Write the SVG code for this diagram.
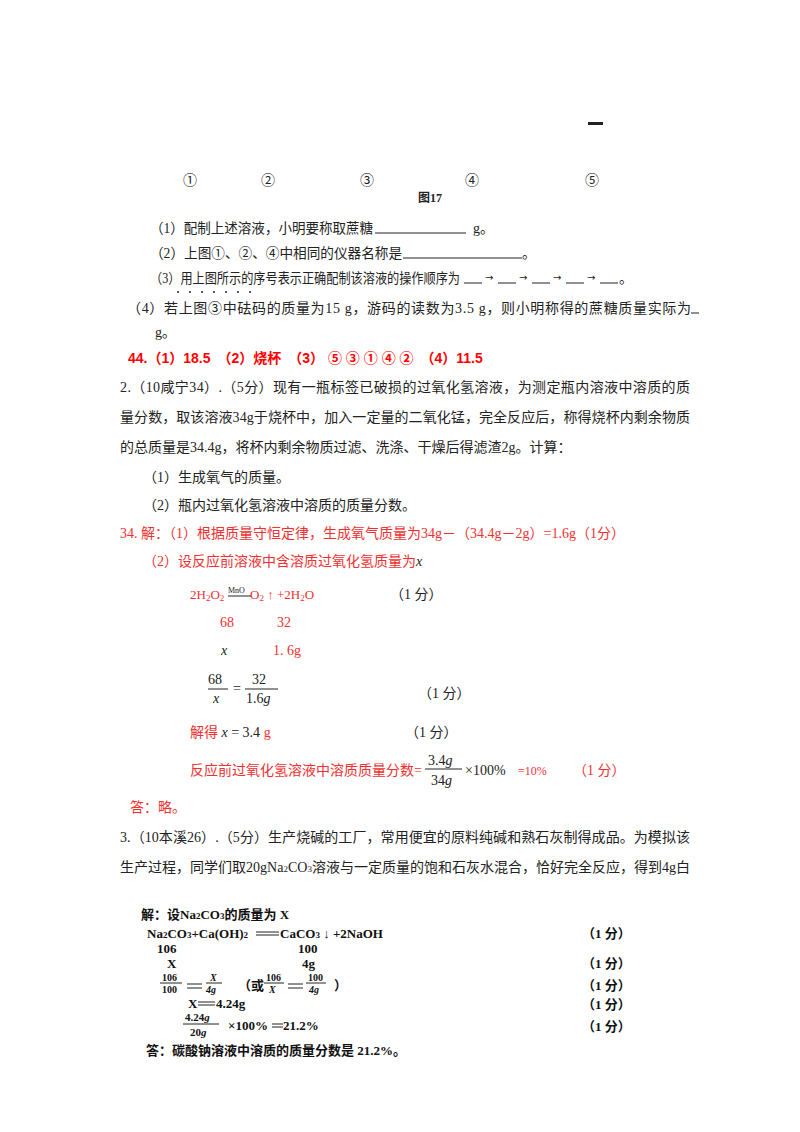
<svg xmlns="http://www.w3.org/2000/svg" width="800" height="1132" viewBox="0 0 800 1132">
<style>
text{font-family:"Liberation Serif","Noto Sans CJK SC",serif;font-size:14px;fill:#222}
.r{fill:#f03030}
.rb{fill:#ff0000;font-weight:bold;font-family:"Liberation Sans","Noto Sans CJK SC",sans-serif}
.b{font-weight:bold;fill:#111;font-size:13px}
.i{font-style:italic}
.ar{font-size:10px;font-family:"DejaVu Sans",sans-serif}
line{stroke:#222;stroke-width:1}
</style>
<rect width="800" height="1132" fill="#fff"/>
<rect x="588" y="122" width="15" height="3" fill="#222"/>
<g>
<text x="183" y="185">①</text><text x="261" y="185">②</text><text x="360" y="185">③</text><text x="465" y="185">④</text><text x="585" y="185">⑤</text>
<text x="418" y="202" style="font-weight:bold;font-size:12px">图17</text>
</g>
<text x="150" y="233" textLength="223" lengthAdjust="spacingAndGlyphs">（1）配制上述溶液，小明要称取蔗糖</text>
<line x1="375" y1="233" x2="466" y2="233"/>
<text x="473" y="233">g。</text>
<text x="150" y="258" textLength="252" lengthAdjust="spacingAndGlyphs">（2）上图①、②、④中相同的仪器名称是</text>
<line x1="403" y1="258" x2="522" y2="258"/>
<text x="522" y="258">。</text>
<text x="150" y="283" textLength="310" lengthAdjust="spacingAndGlyphs">（3）用上图所示的序号表示正确配制该溶液的操作顺序为</text>
<g fill="#222"><circle cx="178" cy="292" r="1"/><circle cx="190" cy="292" r="1"/><circle cx="202" cy="292" r="1"/><circle cx="214" cy="292" r="1"/><circle cx="226" cy="292" r="1"/><circle cx="238" cy="292" r="1"/><circle cx="250" cy="292" r="1"/></g>
<g>
<line x1="464" y1="283" x2="482" y2="283"/><text x="485" y="281" class="ar">→</text>
<line x1="498" y1="283" x2="516" y2="283"/><text x="519" y="281" class="ar">→</text>
<line x1="532" y1="283" x2="550" y2="283"/><text x="553" y="281" class="ar">→</text>
<line x1="566" y1="283" x2="584" y2="283"/><text x="587" y="281" class="ar">→</text>
<line x1="600" y1="283" x2="618" y2="283"/><text x="619" y="283">。</text>
</g>
<text x="127" y="313" textLength="564">（4）若上图③中砝码的质量为15 g，游码的读数为3.5 g，则小明称得的蔗糖质量实际为</text>
<line x1="691" y1="313" x2="699" y2="313"/>
<text x="155" y="337">g。</text>
<text x="128" y="363" class="rb">44.（1）18.5　（2）烧杯　（3） ⑤ ③ ① ④ ②　（4）11.5</text>
<text x="120" y="392" textLength="570">2.（10咸宁34）.（5分）现有一瓶标签已破损的过氧化氢溶液，为测定瓶内溶液中溶质的质</text>
<text x="120" y="422" textLength="570">量分数，取该溶液34g于烧杯中，加入一定量的二氧化锰，完全反应后，称得烧杯内剩余物质</text>
<text x="120" y="452">的总质量是34.4g，将杯内剩余物质过滤、洗涤、干燥后得滤渣2g。计算：</text>
<text x="143" y="482">（1）生成氧气的质量。</text>
<text x="143" y="510">（2）瓶内过氧化氢溶液中溶质的质量分数。</text>
<text x="120" y="538" class="r">34. 解：（1）根据质量守恒定律，生成氧气质量为34g－（34.4g－2g）=1.6g（1分）</text>
<text x="143" y="566" class="r">（2）设反应前溶液中含溶质过氧化氢质量为<tspan class="i" fill="#222">x</tspan></text>
<text x="190" y="599" class="r" style="font-size:13px">2H<tspan font-size="9" dy="2">2</tspan><tspan dy="-2">O</tspan><tspan font-size="9" dy="2">2</tspan></text>
<text x="228" y="593" style="font-size:8px;fill:#222">MnO</text>
<line x1="228" y1="596" x2="251" y2="596" stroke-width="0.8"/>
<text x="250" y="599" class="r" style="font-size:13px">O<tspan font-size="9" dy="2">2</tspan><tspan dy="-2"> ↑ +2H</tspan><tspan font-size="9" dy="2">2</tspan><tspan dy="-2">O</tspan></text>
<text x="390" y="599">（1 分）</text>
<text x="220" y="627" class="r">68</text><text x="277" y="627" class="r">32</text>
<text x="221" y="655" class="i">x</text><text x="273" y="655" class="r">1. 6g</text>
<g style="font-size:13px">
<text x="208" y="684">68</text><line x1="208" y1="689" x2="228" y2="689"/><text x="213" y="703" class="i">x</text>
<text x="233" y="693">=</text>
<text x="252" y="684">32</text><line x1="245" y1="689" x2="278" y2="689"/><text x="246" y="703">1.6<tspan class="i">g</tspan></text>
</g>
<text x="418" y="698">（1 分）</text>
<text x="190" y="737" class="r">解得 <tspan class="i" fill="#222">x</tspan><tspan fill="#222"> = 3.4 </tspan>g</text>
<text x="405" y="737">（1 分）</text>
<text x="190" y="775" class="r">反应前过氧化氢溶液中溶质质量分数=</text>
<text x="428" y="765">3.4<tspan class="i">g</tspan></text>
<line x1="425" y1="769" x2="462" y2="769"/>
<text x="431" y="785">34<tspan class="i">g</tspan></text>
<text x="465" y="775">×100%</text>
<text x="518" y="775" class="r" style="font-size:12px">=10%</text>
<text x="573" y="775" class="r">（1 分）</text>
<text x="130" y="812" class="r">答：略。</text>
<text x="120" y="842" textLength="570">3.（10本溪26）.（5分）生产烧碱的工厂，常用便宜的原料纯碱和熟石灰制得成品。为模拟该</text>
<text x="120" y="872" textLength="570">生产过程，同学们取20gNa<tspan font-size="9">2</tspan>CO<tspan font-size="9">3</tspan>溶液与一定质量的饱和石灰水混合，恰好完全反应，得到4g白</text>
<g>
<text x="141" y="919" class="b">解：设Na<tspan font-size="9">2</tspan>CO<tspan font-size="9">3</tspan>的质量为 X</text>
<text x="147" y="938" class="b">Na<tspan font-size="9">2</tspan>CO<tspan font-size="9">3</tspan>+Ca(OH)<tspan font-size="9">2</tspan></text>
<line x1="256" y1="932" x2="279" y2="932" stroke-width="1.2"/><line x1="256" y1="935" x2="279" y2="935" stroke-width="1.2"/>
<text x="280" y="938" class="b">CaCO<tspan font-size="9">3</tspan> ↓ +2NaOH</text>
<text x="157" y="953" class="b">106</text><text x="298" y="953" class="b">100</text>
<text x="167" y="968" class="b">X</text><text x="302" y="968" class="b">4g</text>
<text x="162" y="981" class="b" style="font-size:10px">106</text><line x1="160" y1="983" x2="182" y2="983"/><text x="162" y="993" class="b" style="font-size:10px">100</text>
<line x1="187" y1="984" x2="202" y2="984" stroke-width="1.5"/><line x1="187" y1="988" x2="202" y2="988" stroke-width="1.5"/>
<text x="210" y="981" class="b i" style="font-size:10px">X</text><line x1="206" y1="983" x2="222" y2="983"/><text x="206" y="993" class="b i" style="font-size:10px">4g</text>
<text x="238" y="990" class="b">（或</text>
<text x="266" y="981" class="b" style="font-size:10px">106</text><line x1="264" y1="983" x2="284" y2="983"/><text x="269" y="993" class="b i" style="font-size:10px">X</text>
<line x1="288" y1="984" x2="303" y2="984" stroke-width="1.5"/><line x1="288" y1="988" x2="303" y2="988" stroke-width="1.5"/>
<text x="308" y="981" class="b" style="font-size:10px">100</text><line x1="306" y1="983" x2="326" y2="983"/><text x="309" y="993" class="b i" style="font-size:10px">4g</text>
<text x="334" y="990" class="b">）</text>
<text x="188" y="1008" class="b">X</text>
<line x1="198" y1="1002" x2="215" y2="1002" stroke-width="1.2"/><line x1="198" y1="1005" x2="215" y2="1005" stroke-width="1.2"/>
<text x="216" y="1008" class="b">4.24g</text>
<text x="185" y="1021" class="b" style="font-size:11px">4.24<tspan class="i">g</tspan></text>
<line x1="183" y1="1024" x2="219" y2="1024"/>
<text x="190" y="1036" class="b" style="font-size:11px">20<tspan class="i">g</tspan></text>
<text x="228" y="1030" class="b">×100%</text>
<line x1="272" y1="1024" x2="283" y2="1024" stroke-width="1.2"/><line x1="272" y1="1027" x2="283" y2="1027" stroke-width="1.2"/>
<text x="283" y="1030" class="b">21.2%</text>
<text x="582" y="938" class="b">（1 分）</text>
<text x="582" y="968" class="b">（1 分）</text>
<text x="582" y="990" class="b">（1 分）</text>
<text x="582" y="1009" class="b">（1 分）</text>
<text x="582" y="1031" class="b">（1 分）</text>
<text x="146" y="1055" class="b">答：碳酸钠溶液中溶质的质量分数是 21.2%。</text>
</g>
</svg>
